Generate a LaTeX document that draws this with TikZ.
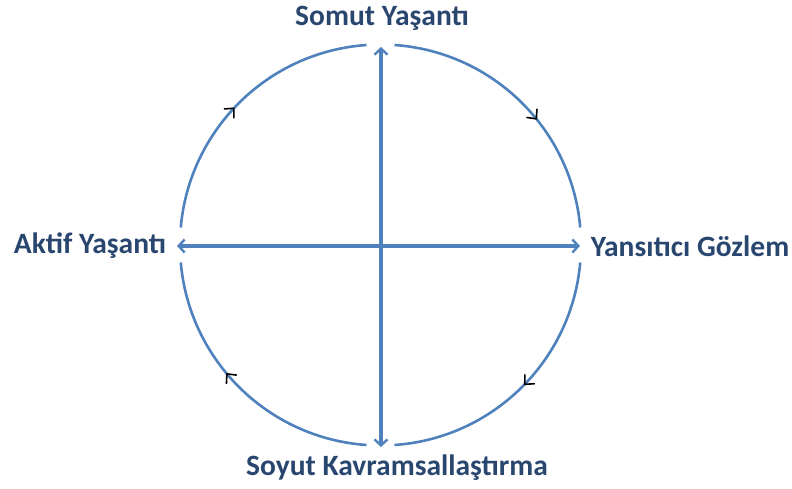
\documentclass[tikz,border=0pt]{standalone}
\usepackage{fontspec}
\setmainfont{Carlito}
\usetikzlibrary{arrows.meta,calc}
\definecolor{lineblue}{HTML}{4F81BD}
\definecolor{txtblue}{HTML}{29466F}
\tikzset{
  lbl/.style={font=\fontsize{29.5}{34}\selectfont\bfseries, text=txtblue, inner sep=0pt},
  axis/.style={draw=lineblue, line width=3.2pt, {Straight Barb[length=6pt,width=13pt,line width=2.4pt]}-{Straight Barb[length=6pt,width=13pt,line width=2.4pt]}},
  ring/.style={draw=lineblue, line width=2.6pt},
  flowtip/.style={draw=black, line width=1.6pt, line cap=round, line join=round}
}
\begin{document}
\begin{tikzpicture}[x=1pt,y=1pt]
\useasboundingbox (0,0) rectangle (792,-489);
\coordinate (c) at (380.5,-245);
\node[lbl] (top) at (382,-18) {Somut Yaşantı};
\node[lbl] (left) at (90,-246) {Aktif Yaşantı};
\node[lbl] (right) at (690,-246) {Yansıtıcı Gözlem};
\node[lbl] (bottom) at (397,-468) {Soyut Kavramsallaştırma};
\coordinate (vt) at (381,-47);
\coordinate (vb) at (381,-447);
\coordinate (hl) at (177,-246);
\coordinate (hr) at (580,-246);
\draw[axis] (vt) -- (vb);
\draw[axis] (hl) -- (hr);
\draw[ring] (c) ++(86:200.5) arc[start angle=86, end angle=5, radius=200.5];
\draw[ring] (c) ++(-5:200.5) arc[start angle=-5, end angle=-86, radius=200.5];
\draw[ring] (c) ++(-94:200.5) arc[start angle=-94, end angle=-175, radius=200.5];
\draw[ring] (c) ++(175:200.5) arc[start angle=175, end angle=94, radius=200.5];
\foreach \a in {39,-44,-140,137}{
  \draw[flowtip, shift={($(c)+(\a:200.5)$)}, rotate=\a-90] (-7,6.5) -- (0,0) -- (-7,-6.5);
}
\end{tikzpicture}
\end{document}
